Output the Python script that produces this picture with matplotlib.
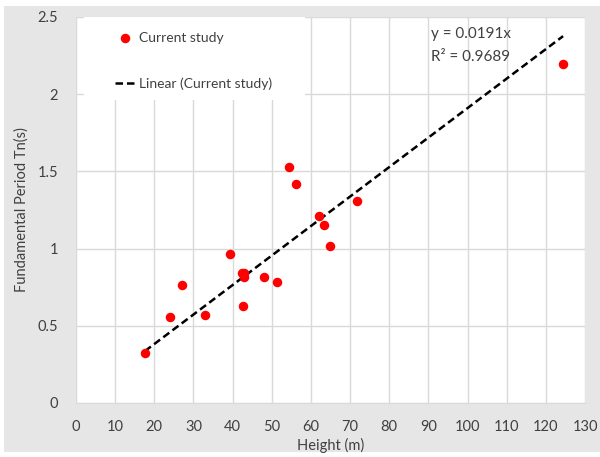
import matplotlib.pyplot as plt
from matplotlib.patches import Rectangle

plt.rcParams['font.family'] = ['Lato', 'DejaVu Sans']

# data
height = [17.6, 23.9, 27.0, 32.9, 39.4, 42.4, 43.0, 42.9, 42.7, 48.1,
          51.3, 54.4, 56.1, 62.1, 63.3, 64.8, 71.7, 124.4]
period = [0.322, 0.559, 0.764, 0.568, 0.967, 0.844, 0.844, 0.814, 0.626, 0.814,
          0.786, 1.528, 1.418, 1.209, 1.155, 1.017, 1.310, 2.196]
slope = 0.0191
r2 = 0.9689

x_ticks = list(range(0, 131, 10))
y_ticks = [0, 0.5, 1, 1.5, 2, 2.5]
y_ticklabels = ['0', '0.5', '1', '1.5', '2', '2.5']

W, H = 600, 457
fig = plt.figure(figsize=(6, 4.57), dpi=100)
fig.patch.set_facecolor('white')
fig.patches.append(Rectangle((4 / W, 5 / H), 1 - 4 / W, 1 - 11 / H,
                             transform=fig.transFigure, facecolor='#e6e6e6',
                             edgecolor='none', zorder=-1))

ax = fig.add_axes([76 / W, 1 - 403 / H, 509 / W, 386 / H])
ax.set_facecolor('white')
ax.set_xlim(0, 130)
ax.set_ylim(0, 2.5)
ax.set_xticks(x_ticks)
ax.set_yticks(y_ticks)
ax.set_yticklabels(y_ticklabels)
ax.tick_params(axis='both', length=0, labelsize=10.5, colors='#404040')
ax.tick_params(axis='y', pad=13)
ax.tick_params(axis='x', pad=12)
ax.grid(True, color='#d9d9d9', linewidth=1)
ax.set_axisbelow(True)
for s in ['top', 'right', 'left']:
    ax.spines[s].set_visible(False)
ax.spines['bottom'].set_color('#d9d9d9')

# white legend box covering grid
ax.add_patch(Rectangle((8 / 509, 1 - 83 / 386), 221 / 509, 83 / 386,
                       transform=ax.transAxes, facecolor='white',
                       edgecolor='none', zorder=1.5))

ax.scatter(height, period, s=34, color='#ff0000', zorder=3, label='Current study')
xmin, xmax = min(height), max(height)
ax.plot([xmin, xmax], [slope * xmin, slope * xmax], color='black', linewidth=1.8,
        dashes=(3, 1.6), zorder=2.5, label='Linear (Current study)')

ax.set_xlabel('Height (m)', fontsize=10.5, color='#404040', labelpad=3)
ax.set_ylabel('Fundamental Period Tn(s)', fontsize=10.5, color='#404040', labelpad=6)

ax.legend(loc='upper left', bbox_to_anchor=(115 / W, 1 - 32 / H),
          bbox_transform=fig.transFigure, frameon=False, borderpad=0,
          borderaxespad=0, handlelength=1.5, handletextpad=0.2,
          labelspacing=2.4, fontsize=10, labelcolor='#404040')

fig.text(431 / W, 1 - 34 / H, 'y = 0.0191x', fontsize=11, color='#404040', va='center')
fig.text(431 / W, 1 - 57 / H, 'R² = 0.9689', fontsize=11, color='#404040', va='center')

fig.savefig('out.png', dpi=100, facecolor=fig.get_facecolor())
